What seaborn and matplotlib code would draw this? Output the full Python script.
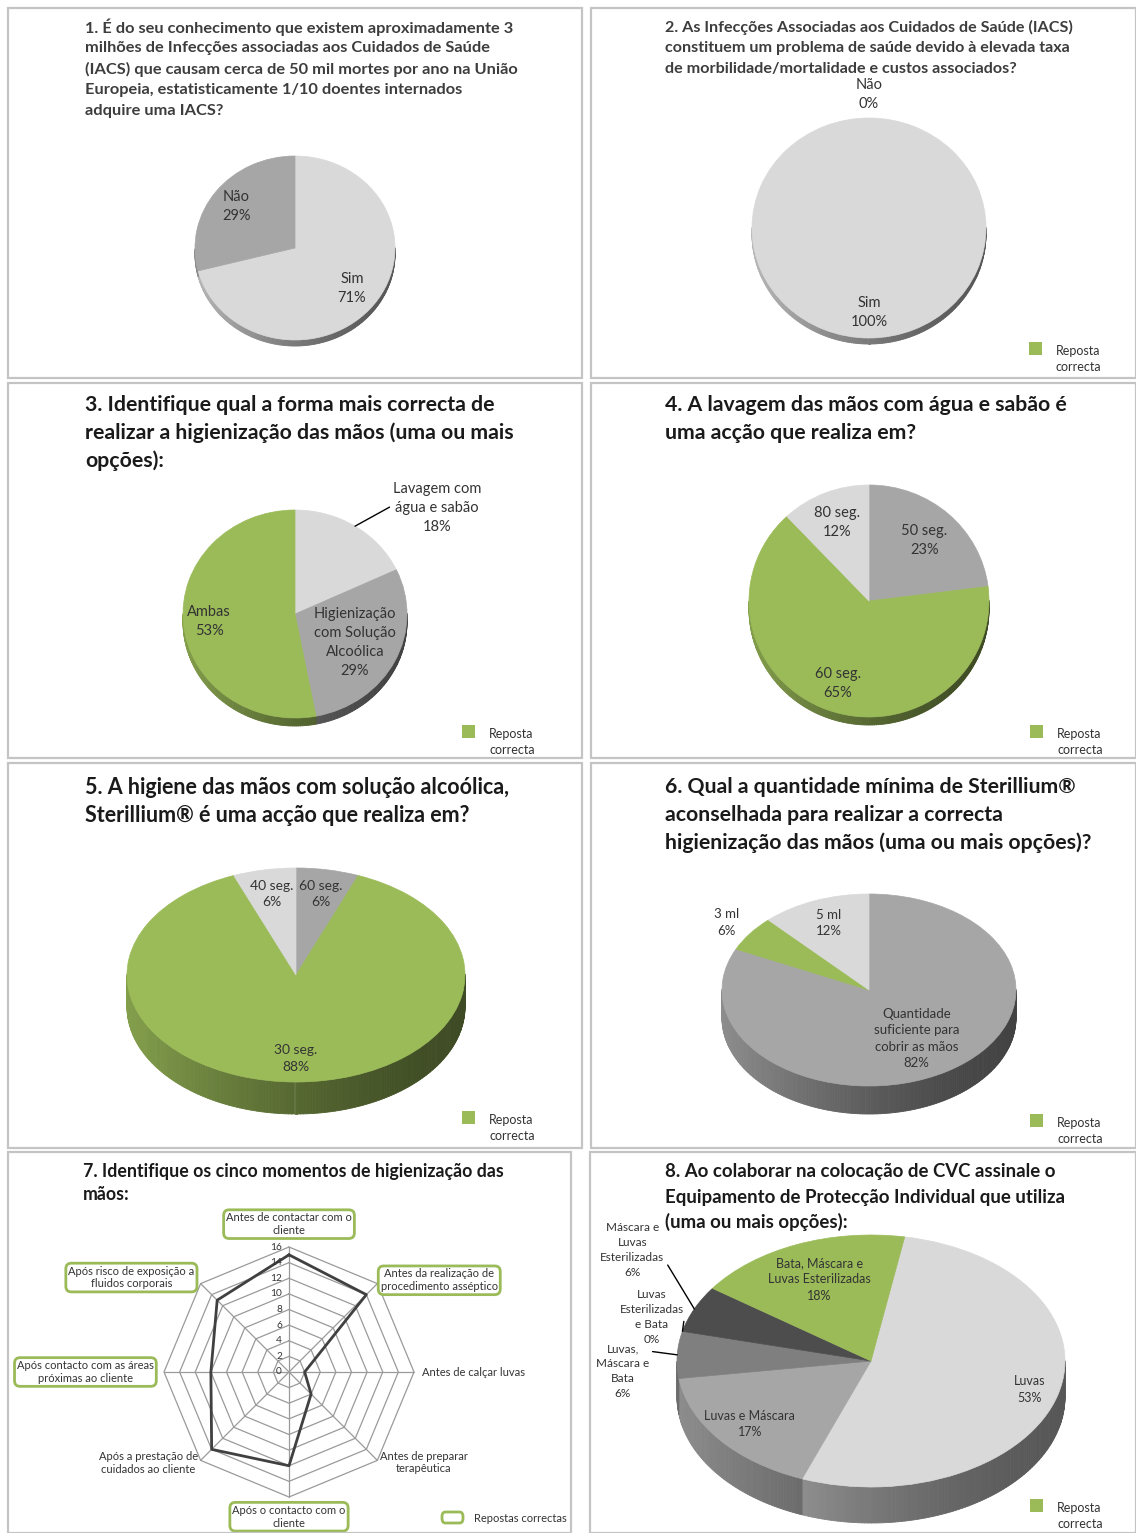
import numpy as np
import matplotlib
matplotlib.use("Agg")
import matplotlib.pyplot as plt
import matplotlib.colors as mcolors
from matplotlib.patches import Rectangle, FancyBboxPatch
from matplotlib.collections import PolyCollection
import pandas as pd
import seaborn as sns

sns.set_theme(style="white")
plt.rcParams['font.family'] = ['Lato', 'DejaVu Sans']

# ---------------------------------------------------------------- data
q1_labels = ['Sim', 'Não']
q1_values = [71, 29]

q2_labels = ['Sim', 'Não']
q2_values = [100, 0]

q3_labels = ['Lavagem com\nágua e sabão', 'Higienização\ncom Solução\nAlcoólica', 'Ambas']
q3_values = [18, 29, 53]

q4_labels = ['50 seg.', '60 seg.', '80 seg.']
q4_values = [23, 65, 12]

q5_labels = ['60 seg.', '30 seg.', '40 seg.']
q5_values = [6, 88, 6]

q6_labels = ['Quantidade\nsuficiente para\ncobrir as mãos', '3 ml', '5 ml']
q6_values = [82, 6, 12]

q7_axes = ['Antes de contactar com o\ncliente',
           'Antes da realização de\nprocedimento asséptico',
           'Antes de calçar luvas',
           'Antes de preparar\nterapêutica',
           'Após o contacto com o\ncliente',
           'Após a prestação de\ncuidados ao cliente',
           'Após contacto com as áreas\npróximas ao cliente',
           'Após risco de exposição a\nfluidos corporais']
q7_values = [15, 14, 2, 4, 12, 14, 10, 13]
q7_correct = [True, True, False, False, True, False, True, True]
q7_ticks = [0, 2, 4, 6, 8, 10, 12, 14, 16]

q8_labels = ['Luvas', 'Luvas e Máscara', 'Luvas,\nMáscara e\nBata',
             'Luvas\nEsterilizadas\ne Bata', 'Máscara e\nLuvas\nEsterilizadas',
             'Bata, Máscara e\nLuvas Esterilizadas']
q8_values = [53, 17, 6, 0, 6, 18]

titles = {
    1: ['1. É do seu conhecimento que existem aproximadamente 3',
        'milhões de Infecções associadas aos Cuidados de Saúde',
        '(IACS) que causam cerca de 50 mil mortes por ano na União',
        'Europeia, estatisticamente 1/10 doentes internados',
        'adquire uma IACS?'],
    2: ['2. As Infecções Associadas aos Cuidados de Saúde (IACS)',
        'constituem um problema de saúde devido à elevada taxa',
        'de morbilidade/mortalidade e custos associados?'],
    3: ['3. Identifique qual a forma mais correcta de',
        'realizar a higienização das mãos (uma ou mais',
        'opções):'],
    4: ['4. A lavagem das mãos com água e sabão é',
        'uma acção que realiza em?'],
    5: ['5. A higiene das mãos com solução alcoólica,',
        'Sterillium® é uma acção que realiza em?'],
    6: ['6. Qual a quantidade mínima de Sterillium®',
        'aconselhada para realizar a correcta',
        'higienização das mãos (uma ou mais opções)?'],
    7: ['7. Identifique os cinco momentos de higienização das',
        'mãos:'],
    8: ['8. Ao colaborar na colocação de CVC assinale o',
        'Equipamento de Protecção Individual que utiliza',
        '(uma ou mais opções):'],
}
legend_text = 'Reposta\ncorrecta'
radar_legend_text = 'Repostas correctas'

# ---------------------------------------------------------------- style
GREEN = '#9bbb59'
LIGHT = '#d9d9d9'
MID = '#a6a6a6'
DARK = '#7f7f7f'
DARKER = '#4d4d4d'
TXT = '#333333'
LS = 1.45

W, H = 1136, 1533
fig = plt.figure(figsize=(W / 100, H / 100), dpi=100)


def fx(x):
    return x / W


def fy(y):
    return 1 - y / H


def ftext(x, y, s, **kw):
    return fig.text(fx(x), fy(y), s, **kw)


def px_axes(box):
    x0, y0, x1, y1 = box
    ax = fig.add_axes([fx(x0), fy(y1), (x1 - x0) / W, (y1 - y0) / H])
    ax.set_axis_off()
    return ax


def set_frame(ax, box, cx, cy, sx, sy):
    x0, y0, x1, y1 = box
    ax.set_aspect('auto')
    ax.set_xlim((x0 - cx) / sx, (x1 - cx) / sx)
    ax.set_ylim((cy - y1) / sy, (cy - y0) / sy)


def side_wall(ax, wedges, depth):
    polys, cols = [], []
    for w in wedges:
        if abs(w.theta2 - w.theta1) < 1e-9:
            continue
        rgb = np.array(mcolors.to_rgb(w.get_facecolor()))
        n = max(2, int(abs(w.theta2 - w.theta1)) + 2)
        t = np.deg2rad(np.linspace(w.theta1, w.theta2, n))
        for a, b in zip(t[:-1], t[1:]):
            m = (a + b) / 2
            if np.sin(m) >= 0:
                continue
            polys.append([(np.cos(a), np.sin(a)), (np.cos(b), np.sin(b)),
                          (np.cos(b), np.sin(b) - depth), (np.cos(a), np.sin(a) - depth)])
            f = 0.40 + 0.45 * ((1 - np.cos(m)) / 2) ** 1.5
            cols.append(np.clip(rgb * f, 0, 1))
    pc = PolyCollection(polys, facecolors=cols, edgecolors=cols, linewidths=0.6, zorder=1)
    ax.add_collection(pc)


def pie_panel(box, cx, cy, rx, ry, depth_px, values, colors, labels, dists,
              start=90, fs=10.5, skip=()):
    ax = px_axes(box)
    wedges, _ = ax.pie(values, colors=colors, startangle=start, counterclock=False,
                       wedgeprops={'zorder': 3, 'linewidth': 0.5})
    for w, v in zip(wedges, values):
        if v == 0:
            w.set_linewidth(0)
        else:
            w.set_edgecolor(w.get_facecolor())
    if depth_px > 0:
        side_wall(ax, wedges, depth_px / ry)
    for i, (w, lab, val, d) in enumerate(zip(wedges, labels, values, dists)):
        if i in skip:
            continue
        m = np.deg2rad((w.theta1 + w.theta2) / 2)
        ax.text(d * np.cos(m), d * np.sin(m), f'{lab}\n{val}%', ha='center', va='center',
                fontsize=fs, color=TXT, linespacing=LS, zorder=5)
    set_frame(ax, box, cx, cy, rx, ry)
    return ax, wedges


def outside_label(ax, w, text, xytext, relpos, fs):
    m = np.deg2rad((w.theta1 + w.theta2) / 2)
    ax.annotate(text, xy=(np.cos(m), np.sin(m)), xytext=xytext, textcoords='data',
                ha='center', va='center', fontsize=fs, color=TXT, linespacing=LS,
                zorder=6, annotation_clip=False,
                arrowprops=dict(arrowstyle='-', color='black', lw=1.0, relpos=relpos,
                                shrinkA=0, shrinkB=0))


def title(n, x, y0, pitch, fs, color='#1a1a1a'):
    for i, line in enumerate(titles[n]):
        ftext(x, y0 + i * pitch, line, fontsize=fs, fontweight='bold', color=color,
              ha='left', va='center')


def legend_square(x, y):
    fig.add_artist(Rectangle((fx(x), fy(y + 13)), 13 / W, 13 / H, transform=fig.transFigure,
                             facecolor=GREEN, edgecolor='none'))
    lines = legend_text.split('\n')
    ftext(x + 27, y + 9, lines[0], fontsize=9, color=TXT, va='center')
    ftext(x + 27, y + 25, lines[1], fontsize=9, color=TXT, va='center')


# ---------------------------------------------------------------- panel frames
panels = [(8, 8, 582, 378), (591, 8, 1136, 378),
          (8, 383, 582, 758), (591, 383, 1136, 758),
          (8, 763, 582, 1148), (591, 763, 1136, 1148),
          (8, 1152, 571, 1533), (590, 1152, 1136, 1533)]
for (x0, y0, x1, y1) in panels:
    fig.add_artist(Rectangle((fx(x0), fy(y1)), (x1 - x0) / W, (y1 - y0) / H,
                             transform=fig.transFigure, facecolor='none',
                             edgecolor='#c4c4c4', linewidth=1.6))

# ---------------------------------------------------------------- 1
title(1, 85, 27, 21, 11.8, color='#3d3d3d')
pie_panel((10, 130, 580, 376), 295, 248, 100, 92, 6, q1_values, [LIGHT, MID],
          q1_labels, [0.72, 0.74])

# ---------------------------------------------------------------- 2
title(2, 665, 27, 21, 11.6, color='#3d3d3d')
pie_panel((593, 80, 1134, 376), 869, 228, 117, 110, 6, q2_values, [LIGHT, MID],
          q2_labels, [0.77, 1.21])
legend_square(1029, 342)

# ---------------------------------------------------------------- 3
title(3, 85, 405, 28, 15.3)
ax3, w3 = pie_panel((10, 470, 580, 756), 295, 614, 112, 104, 8, q3_values, [LIGHT, MID, GREEN],
                    q3_labels, [0, 0.6, 0.77], skip=(0,))
outside_label(ax3, w3[0], f'{q3_labels[0]}\n{q3_values[0]}%', (1.268, 1.02), (0.0, 0.55), 10.5)
legend_square(462, 725)

# ---------------------------------------------------------------- 4
title(4, 665, 405, 28, 15.3)
pie_panel((593, 450, 1134, 756), 869, 601, 120, 116, 8, q4_values, [MID, GREEN, LIGHT],
          q4_labels, [0.7, 0.76, 0.73])
legend_square(1030, 725)

# ---------------------------------------------------------------- 5
title(5, 85, 787, 28, 15.5)
pie_panel((10, 840, 580, 1146), 296, 975, 169, 107, 32, q5_values, [MID, GREEN, LIGHT],
          q5_labels, [0.77, 0.78, 0.77], fs=10)
legend_square(462, 1111)

# ---------------------------------------------------------------- 6
title(6, 665, 787, 28, 15.3)
pie_panel((593, 860, 1134, 1146), 869, 990, 147, 96, 28, q6_values, [MID, GREEN, LIGHT],
          q6_labels, [0.6, 1.2, 0.75], fs=9.5)
legend_square(1030, 1114)

# ---------------------------------------------------------------- 7 radar
title(7, 83, 1172, 23, 12.8)
box7 = (10, 1154, 569, 1532)
ax7 = px_axes(box7)
rcx, rcy, scale = 289, 1372, 125 / 16
ang = np.deg2rad(np.arange(len(q7_values)) * 360 / len(q7_values))
ring = np.append(ang, ang[0])
for r in q7_ticks[1:]:
    ax7.plot(r * np.sin(ring), r * np.cos(ring), color='#9a9a9a', lw=0.9, zorder=1)
for a in ang:
    ax7.plot([0, 16 * np.sin(a)], [0, 16 * np.cos(a)], color='#9a9a9a', lw=0.9, zorder=1)
vals = np.append(q7_values, q7_values[0])
radar_df = pd.DataFrame({'x': vals * np.sin(ring), 'y': vals * np.cos(ring)})
sns.lineplot(data=radar_df, x='x', y='y', sort=False, estimator=None, color='#404040',
             lw=2.0, ax=ax7, zorder=3)
for t in q7_ticks:
    ax7.text(-0.9, t, str(t), ha='right', va='center', fontsize=7.3, color=TXT, zorder=4)
place = [(17.4, 'center', 'bottom'), (16.6, 'left', 'center'), (17.0, 'left', 'center'),
         (16.4, 'left', 'center'), (17.0, 'center', 'top'), (16.5, 'right', 'center'),
         (17.3, 'right', 'center'), (17.1, 'right', 'center')]
for a, lab, ok, (d, ha, va) in zip(ang, q7_axes, q7_correct, place):
    kw = {}
    if ok:
        kw['bbox'] = dict(boxstyle='round,pad=0.22,rounding_size=0.5', fc='white',
                          ec=GREEN, lw=2.0)
    ax7.text(d * np.sin(a), d * np.cos(a), lab, ha=ha, va=va, fontsize=8, color=TXT,
             multialignment='center', linespacing=1.2, zorder=5, **kw)
set_frame(ax7, box7, rcx, rcy, scale, scale)
fig.add_artist(FancyBboxPatch((fx(442), fy(1523)), 21 / W, 11 / H,
                              boxstyle='round,pad=0,rounding_size=0.003',
                              transform=fig.transFigure, facecolor='white',
                              edgecolor=GREEN, linewidth=2.0))
ftext(474, 1518, radar_legend_text, fontsize=8, color=TXT, va='center')

# ---------------------------------------------------------------- 8
title(8, 665, 1172, 25, 13.4)
ax8, w8 = pie_panel((592, 1230, 1134, 1531), 871, 1361, 194, 126, 36, q8_values,
                    [LIGHT, MID, DARK, DARKER, DARKER, GREEN], q8_labels,
                    [0.85, 0.8, 0, 0, 0, 0.7], start=80, fs=9, skip=(2, 3, 4))
outside_label(ax8, w8[2], f'{q8_labels[2]}\n{q8_values[2]}%', (-1.28, -0.08), (0.8, 0.88), 8.5)
outside_label(ax8, w8[3], f'{q8_labels[3]}\n{q8_values[3]}%', (-1.13, 0.35), (1.0, 0.42), 8.5)
outside_label(ax8, w8[4], f'{q8_labels[4]}\n{q8_values[4]}%', (-1.23, 0.88), (1.0, 0.33), 8.5)
legend_square(1030, 1499)

fig.savefig('out.png', dpi=100, facecolor='white')
